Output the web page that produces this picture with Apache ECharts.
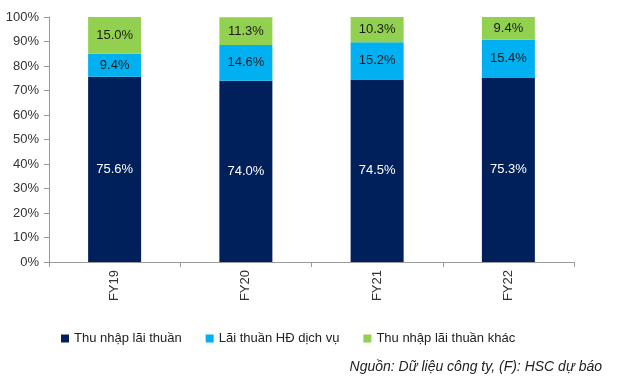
<!DOCTYPE html>
<html><head><meta charset="utf-8">
<script src="https://cdn.jsdelivr.net/npm/echarts@6/dist/echarts.min.js"></script>
<style>html,body{margin:0;padding:0;background:#fff}#c{width:618px;height:392px}</style>
</head><body><div id="c"></div>
<script>
const categories = ['FY19','FY20','FY21','FY22'];
const seriesNames = ['Thu nhập lãi thuần','Lãi thuần HĐ dịch vụ','Thu nhập lãi thuần khác'];
const netInterest = [75.6, 74.0, 74.5, 75.3];
const serviceFee = [9.4, 14.6, 15.2, 15.4];
const otherIncome = [15.0, 11.3, 10.3, 9.4];
const yTicks = [0,10,20,30,40,50,60,70,80,90,100];
const colors = ['#00205B','#00B0F0','#92D050'];
const labelColors = ['#ffffff','#1a1a1a','#1a1a1a'];
const font = 'Liberation Sans, Arial, sans-serif';
const chart = echarts.init(document.getElementById('c'));
const mk = (name, data, i) => ({
  name, type:'bar', stack:'t', data, barWidth:53,
  itemStyle:{color:colors[i]},
  label:{show:true, position:'inside', formatter:p=>p.value.toFixed(1)+'%', color:labelColors[i], fontFamily:font, fontSize:13},
  emphasis:{disabled:true}
});
chart.setOption({
  animation:false,
  grid:{left:49, right:44, top:17, bottom:130},
  legend:{bottom:42, left:56, itemWidth:8, itemHeight:8, itemGap:24, icon:'rect',
    textStyle:{fontFamily:font, fontSize:13, color:'#222'}, data:seriesNames},
  graphic:[{type:'text', right:16, top:360, style:{text:'Nguồn: Dữ liệu công ty, (F): HSC dự báo', fontFamily:font, fontStyle:'italic', fontSize:14, fill:'#222'}}],
  xAxis:{type:'category', data:categories,
    axisLine:{lineStyle:{color:'#999'}}, axisTick:{show:true, lineStyle:{color:'#999'}},
    axisLabel:{rotate:90, fontFamily:font, fontSize:13, color:'#333', margin:8}},
  yAxis:{type:'value', min:0, max:100, interval:10,
    axisLine:{show:true, lineStyle:{color:'#999'}}, axisTick:{show:true, lineStyle:{color:'#999'}},
    splitLine:{show:false},
    axisLabel:{formatter:v=>yTicks.includes(v)?v+'%':'', fontFamily:font, fontSize:13, color:'#333', margin:10}},
  series:[mk(seriesNames[0],netInterest,0), mk(seriesNames[1],serviceFee,1), mk(seriesNames[2],otherIncome,2)]
});
</script></body></html>
